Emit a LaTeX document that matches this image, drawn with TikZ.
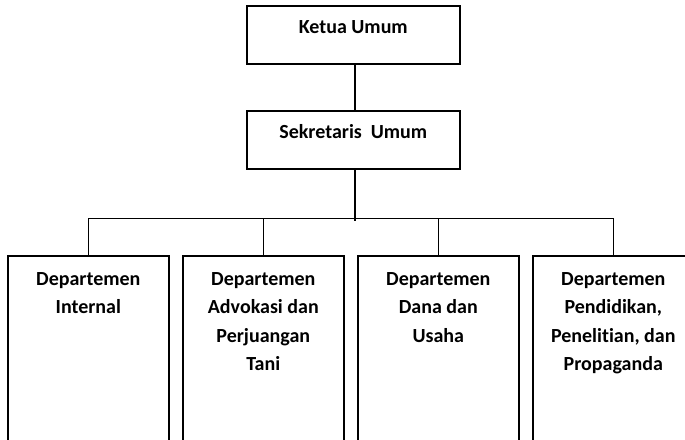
\documentclass[tikz,border=0pt]{standalone}
\usepackage{fontspec}
\setmainfont{Carlito}[Ligatures=NoCommon]
\usetikzlibrary{calc}
% stacked lines whose baseline is that of the first line
\newcommand\stackedlines[1]{\begin{tabular}[t]{@{}c@{}}#1\end{tabular}}
\begin{document}
\begin{tikzpicture}[x=1pt, y=-1pt, line width=1.6pt,
  box/.style={draw, rectangle, anchor=north west, inner sep=0pt, minimum width=#1},
  topbox/.style={box=213, minimum height=58},
  deptbox/.style={box=161, minimum height=210},
  lbl/.style={anchor=base, inner sep=0pt, font=\bfseries\fontsize{20}{28.5}\selectfont}]
\useasboundingbox (0,0) rectangle (685,439);
\clip (0,0) rectangle (685,439);

% top of the chart
\node[topbox] (ketua) at (246,5) {};
\node[topbox] (sekum) at (246,110) {};
\node[lbl] (ketuaT) at ($(ketua.north)+(0,28)$) {Ketua Umum};
\node[lbl] (sekumT) at ($(sekum.north)+(0,28)$) {Sekretaris~ Umum};

% departments (bottom edges run past the page)
\node[deptbox] (d1) at (7,255) {};
\node[deptbox] (d2) at (182,255) {};
\node[deptbox] (d3) at (357,255) {};
\node[deptbox] (d4) at (532,255) {};
\node[lbl] (d1T) at ($(d1.north)+(0,30)$) {\stackedlines{Departemen\\Internal}};
\node[lbl] (d2T) at ($(d2.north)+(0,30)$) {\stackedlines{Departemen\\Advokasi dan\\Perjuangan\\Tani}};
\node[lbl] (d3T) at ($(d3.north)+(0,30)$) {\stackedlines{Departemen\\Dana dan\\Usaha}};
\node[lbl] (d4T) at ($(d4.north)+(0,30)$) {\stackedlines{Departemen\\Pendidikan,\\Penelitian, dan\\Propaganda}};

% connectors: the trunk sits a little right of the box centres
\path ([xshift=1.5pt]sekum.south) ++(0,48.8) coordinate (bus) ++(0,3) coordinate (busEnd);
\draw ([xshift=1.5pt]ketua.south) -- ([xshift=1.5pt]sekum.north);
\draw ([xshift=1.5pt]sekum.south) -- (busEnd);
\draw (d1.north) |- (bus) -| (d4.north);
\draw (d2.north) -- (d2.north |- bus);
\draw (d3.north) -- (d3.north |- bus);
\end{tikzpicture}
\end{document}
